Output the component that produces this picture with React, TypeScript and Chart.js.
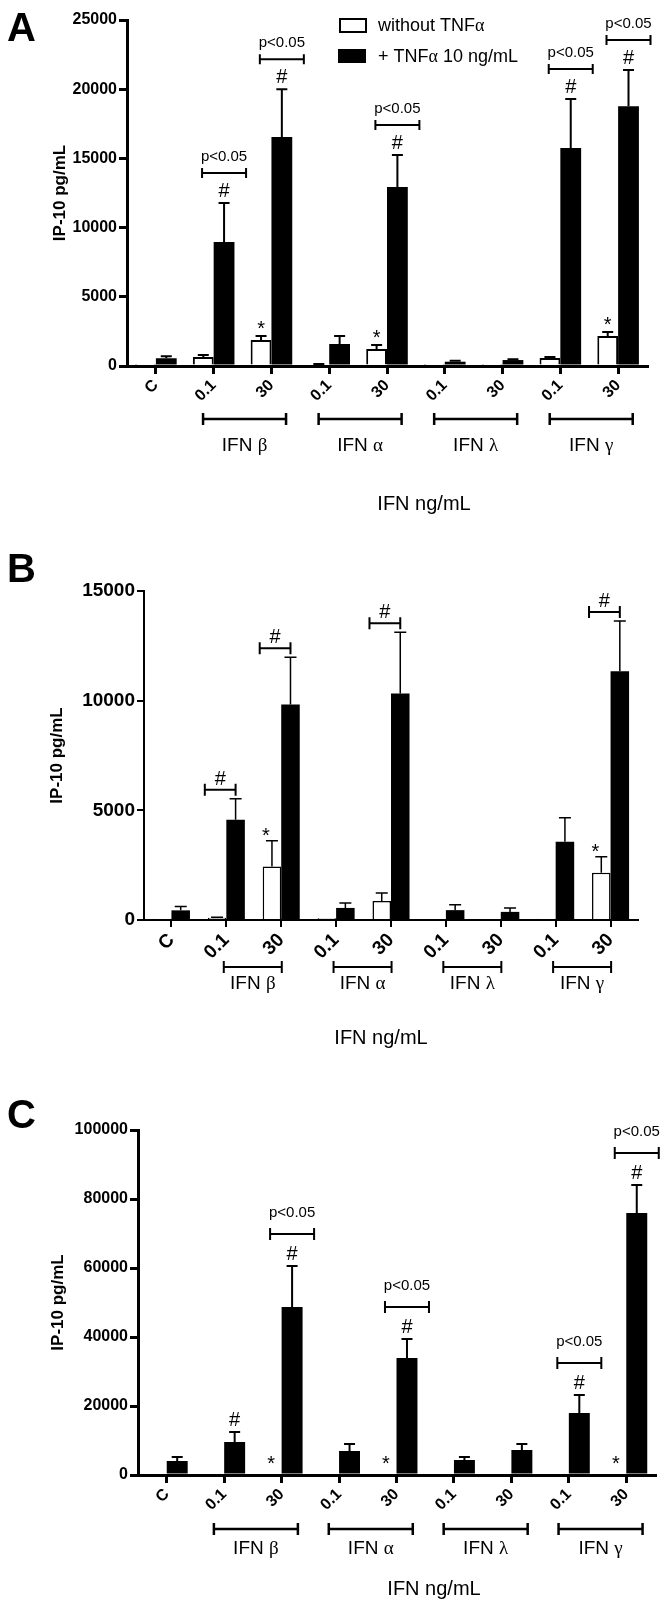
import React, { useEffect, useRef } from "react";
import { Chart, registerables } from "chart.js";
Chart.register(...registerables);

// ---------- data ----------
const categories = ["C", "0.1", "30", "0.1", "30", "0.1", "30", "0.1", "30"];
const ifnGreek = ["β", "α", "λ", "γ"];
const groupStart = [1, 3, 5, 7];
const seriesNames = ["without TNFα", "+ TNFα 10 ng/mL"];
const yTitle = "IP-10 pg/mL";
const xTitle = "IFN ng/mL";

// Panel A
const aWithout = [30, 650, 1880, 100, 1230, 20, 20, 580, 2170];
const aWithoutErr = [0, 150, 290, 40, 290, 0, 0, 70, 290];
const aWith = [560, 8960, 16550, 1590, 12930, 310, 430, 15750, 18760];
const aWithErr = [150, 2820, 3450, 580, 2320, 70, 60, 3540, 2630];
const aHash = [1, 2, 4, 7, 8];
const aStar = [2, 4, 8];
const aBrackets = [1, 2, 4, 7, 8];

// Panel B
const bWithout = [60, 100, 2440, 80, 870, 50, 40, 60, 2150];
const bWithoutErr = [0, 30, 1170, 0, 360, 0, 0, 0, 730];
const bWith = [440, 4570, 9830, 550, 10330, 450, 370, 3570, 11340];
const bWithErr = [180, 960, 2150, 230, 2790, 240, 180, 1090, 2290];
const bHash = [1, 2, 4, 8];
const bStar = [2, 8];
const bBrackets = [1, 2, 4, 8];

// Panel C
const cWithout = [0, 0, 0, 0, 0, 0, 0, 0, 0];
const cWithoutErr = [0, 0, 0, 0, 0, 0, 0, 0, 0];
const cWith = [4060, 9570, 48700, 6960, 33900, 4350, 7250, 17970, 75940];
const cWithErr = [1160, 2890, 11880, 2030, 5500, 870, 1740, 5220, 8120];
const cHash = [1, 2, 4, 7, 8];
const cStar = [2, 4, 8];
const cBrackets = [2, 4, 7, 8];

// ---------- styling ----------
const FONT = '"Liberation Sans", Arial, Helvetica, sans-serif';
const SERIF = '"Liberation Serif", "DejaVu Serif", serif';

type Style = {
  axisW: number; tickLen: number; yFont: number; xFont: number; catPct: number;
  whiteBorder: number; errW: number; cap: number;
  mode: "p" | "hash"; bracketUp: number; hashUp: number; pUp: number; bracketHalf: number;
  bracketW: number; endTick: number;
  starX: number; starUp: number;
  grpY: number; grpHalf: number; grpShift: number; grpTextY: number; grpW: number;
  titleX: number; titleY: number; letterY: number; yTitleX: number;
};

type Panel = {
  letter: string; top: number; height: number;
  area: { left: number; right: number; top: number; bottom: number };
  yMax: number; yStep: number;
  without: number[]; withoutErr: number[]; withV: number[]; withErr: number[];
  hash: number[]; star: number[]; brackets: number[];
  legend: boolean; s: Style;
};

const panels: Panel[] = [
  {
    letter: "A", top: 0, height: 520,
    area: { left: 127, right: 647, top: 20, bottom: 366 },
    yMax: 25000, yStep: 5000,
    without: aWithout, withoutErr: aWithoutErr, withV: aWith, withErr: aWithErr,
    hash: aHash, star: aStar, brackets: aBrackets, legend: true,
    s: {
      axisW: 3, tickLen: 8, yFont: 16, xFont: 16, catPct: 0.72, whiteBorder: 2, errW: 2, cap: 11,
      mode: "p", bracketUp: 30, hashUp: 6, pUp: 12, bracketHalf: 22, bracketW: 2, endTick: 5,
      starX: 0, starUp: 1,
      grpY: 53, grpHalf: 41.5, grpShift: 2, grpTextY: 32, grpW: 2.5,
      titleX: 424, titleY: 144, letterY: 41, yTitleX: 60,
    },
  },
  {
    letter: "B", top: 520, height: 540,
    area: { left: 144, right: 638, top: 71, bottom: 400 },
    yMax: 15000, yStep: 5000,
    without: bWithout, withoutErr: bWithoutErr, withV: bWith, withErr: bWithErr,
    hash: bHash, star: bStar, brackets: bBrackets, legend: false,
    s: {
      axisW: 2, tickLen: 7, yFont: 19, xFont: 19, catPct: 0.675, whiteBorder: 1.5, errW: 1.5, cap: 12,
      mode: "hash", bracketUp: 9, hashUp: 5, pUp: 0, bracketHalf: 0, bracketW: 2, endTick: 6,
      starX: -6, starUp: -1,
      grpY: 47, grpHalf: 29, grpShift: -1, grpTextY: 22, grpW: 2,
      titleX: 381, titleY: 124, letterY: 62, yTitleX: 57,
    },
  },
  {
    letter: "C", top: 1060, height: 549,
    area: { left: 138, right: 655, top: 70, bottom: 415 },
    yMax: 100000, yStep: 20000,
    without: cWithout, withoutErr: cWithoutErr, withV: cWith, withErr: cWithErr,
    hash: cHash, star: cStar, brackets: cBrackets, legend: false,
    s: {
      axisW: 3, tickLen: 8, yFont: 16, xFont: 16, catPct: 0.73, whiteBorder: 2, errW: 2, cap: 11,
      mode: "p", bracketUp: 32, hashUp: 6, pUp: 17, bracketHalf: 22, bracketW: 2, endTick: 6,
      starX: 0, starUp: 5,
      grpY: 54, grpHalf: 42, grpShift: 3, grpTextY: 25, grpW: 2.5,
      titleX: 434, titleY: 120, letterY: 68, yTitleX: 58,
    },
  },
];

// ---------- helpers ----------
function richParts(text: string, size: number, weight = "normal") {
  const parts: { t: string; font: string }[] = [];
  for (const ch of text) {
    const greek = /[\u0370-\u03FF]/.test(ch);
    const font = `${weight} ${size}px ${greek ? SERIF : FONT}`;
    const last = parts[parts.length - 1];
    if (last && last.font === font) last.t += ch;
    else parts.push({ t: ch, font });
  }
  return parts;
}

function drawRich(
  ctx: CanvasRenderingContext2D, text: string, size: number, x: number, y: number,
  align: "left" | "center", weight = "normal"
) {
  const parts = richParts(text, size, weight);
  let total = 0;
  const widths = parts.map((p) => {
    ctx.font = p.font;
    const w = ctx.measureText(p.t).width;
    total += w;
    return w;
  });
  let cx = align === "center" ? x - total / 2 : x;
  ctx.textAlign = "left";
  ctx.textBaseline = "alphabetic";
  parts.forEach((p, i) => {
    ctx.font = p.font;
    ctx.fillText(p.t, cx, y);
    cx += widths[i];
  });
}

function hBracket(ctx: CanvasRenderingContext2D, x0: number, x1: number, y: number, lw: number, endTick: number) {
  ctx.lineWidth = lw;
  ctx.beginPath();
  ctx.moveTo(x0, y);
  ctx.lineTo(x1, y);
  ctx.moveTo(x0, y - endTick);
  ctx.lineTo(x0, y + endTick);
  ctx.moveTo(x1, y - endTick);
  ctx.lineTo(x1, y + endTick);
  ctx.stroke();
}

function makePlugin(p: Panel) {
  const s = p.s;
  return {
    id: "panelDecor" + p.letter,
    afterDatasetsDraw(chart: any) {
      const ctx = chart.ctx as CanvasRenderingContext2D;
      const ys = chart.scales.y;
      const xs = chart.scales.x;
      const ca = chart.chartArea;
      const m0 = chart.getDatasetMeta(0).data;
      const m1 = chart.getDatasetMeta(1).data;
      ctx.save();
      ctx.strokeStyle = "#000";
      ctx.fillStyle = "#000";
      ctx.lineCap = "butt";

      // error bars (upper)
      const errBar = (x: number, v: number, e: number) => {
        if (e <= 0) return;
        const y0 = ys.getPixelForValue(v);
        const y1 = ys.getPixelForValue(v + e);
        ctx.lineWidth = s.errW;
        ctx.beginPath();
        ctx.moveTo(x, y0);
        ctx.lineTo(x, y1);
        ctx.moveTo(x - s.cap / 2, y1);
        ctx.lineTo(x + s.cap / 2, y1);
        ctx.stroke();
      };
      for (let i = 0; i < categories.length; i++) {
        errBar(m0[i].x, p.without[i], p.withoutErr[i]);
        errBar(m1[i].x, p.withV[i], p.withErr[i]);
      }

      // stars over "without" bars
      ctx.textAlign = "center";
      ctx.textBaseline = "alphabetic";
      ctx.font = `20px ${FONT}`;
      for (const i of p.star) {
        const top = ys.getPixelForValue(p.without[i] + p.withoutErr[i]);
        ctx.fillText("*", m0[i].x + s.starX, top - s.starUp);
      }

      if (s.mode === "p") {
        for (const i of p.hash) {
          const top = ys.getPixelForValue(p.withV[i] + p.withErr[i]);
          ctx.font = `20px ${FONT}`;
          ctx.textAlign = "center";
          ctx.fillText("#", m1[i].x, top - s.hashUp);
        }
        for (const i of p.brackets) {
          const top = ys.getPixelForValue(p.withV[i] + p.withErr[i]);
          const by = top - s.bracketUp;
          const cx = m1[i].x;
          hBracket(ctx, cx - s.bracketHalf, cx + s.bracketHalf, by, s.bracketW, s.endTick);
          ctx.font = `15px ${FONT}`;
          ctx.textAlign = "center";
          ctx.fillText("p<0.05", cx, by - s.pUp);
        }
      } else {
        for (const i of p.brackets) {
          const top = ys.getPixelForValue(p.withV[i] + p.withErr[i]);
          const by = top - s.bracketUp;
          const x0 = m0[i].x - m0[i].width / 2 - 3;
          const x1 = m1[i].x;
          hBracket(ctx, x0, x1, by, s.bracketW, s.endTick);
          if (p.hash.includes(i)) {
            ctx.font = `20px ${FONT}`;
            ctx.textAlign = "center";
            ctx.fillText("#", (x0 + x1) / 2, by - s.hashUp);
          }
        }
      }

      // group brackets under the axis
      ifnGreek.forEach((g, k) => {
        const a = xs.getPixelForTick(groupStart[k]);
        const b = xs.getPixelForTick(groupStart[k] + 1);
        const mid = (a + b) / 2 + s.grpShift;
        const y = ca.bottom + s.grpY;
        hBracket(ctx, mid - s.grpHalf, mid + s.grpHalf, y, s.grpW, 6);
        drawRich(ctx, "IFN " + g, 19, mid, y + s.grpTextY, "center");
      });

      // x title
      drawRich(ctx, xTitle, 20, s.titleX, ca.bottom + s.titleY, "center");

      // y title
      ctx.save();
      ctx.translate(s.yTitleX, (ca.top + ca.bottom) / 2);
      ctx.rotate(-Math.PI / 2);
      ctx.font = `bold 17px ${FONT}`;
      ctx.textAlign = "center";
      ctx.textBaseline = "middle";
      ctx.fillText(yTitle, 0, 0);
      ctx.restore();

      // panel letter
      ctx.font = `bold 40px ${FONT}`;
      ctx.textAlign = "left";
      ctx.textBaseline = "alphabetic";
      ctx.fillText(p.letter, 7, s.letterY);

      // legend
      if (p.legend) {
        const ds = chart.data.datasets;
        ctx.lineWidth = 2;
        ctx.fillStyle = "#fff";
        ctx.fillRect(340, 19, 26, 13);
        ctx.strokeRect(340, 19, 26, 13);
        ctx.fillStyle = "#000";
        ctx.fillRect(338, 49, 28, 14);
        drawRich(ctx, ds[0].label, 18, 378, 31, "left");
        drawRich(ctx, ds[1].label, 18, 378, 62, "left");
      }
      ctx.restore();
    },
  };
}

function PanelChart({ p }: { p: Panel }) {
  const ref = useRef<HTMLCanvasElement>(null);
  useEffect(() => {
    const canvas = ref.current!;
    const s = p.s;
    const xBoxH = 40;
    const chart = new Chart(canvas, {
      type: "bar",
      data: {
        labels: categories,
        datasets: [
          {
            label: seriesNames[0], data: p.without, backgroundColor: "#fff", borderColor: "#000",
            borderWidth: s.whiteBorder, categoryPercentage: s.catPct, barPercentage: 1,
          },
          {
            label: seriesNames[1], data: p.withV, backgroundColor: "#000", borderColor: "#000",
            borderWidth: 0, categoryPercentage: s.catPct, barPercentage: 1,
          },
        ],
      },
      options: {
        responsive: false,
        animation: false,
        devicePixelRatio: 1,
        layout: {
          padding: {
            left: 0, top: p.area.top, right: 664 - p.area.right,
            bottom: p.height - p.area.bottom - xBoxH,
          },
        },
        plugins: { legend: { display: false }, tooltip: { enabled: false }, title: { display: false } },
        scales: {
          x: {
            type: "category",
            offset: true,
            grid: {
              display: true, drawOnChartArea: false, drawTicks: true, offset: false,
              tickLength: s.tickLen, lineWidth: s.axisW, color: "#000",
            },
            border: { display: true, width: s.axisW, color: "#000" },
            ticks: {
              color: "#000", autoSkip: false, minRotation: 45, maxRotation: 45, padding: 2,
              font: { family: FONT, size: s.xFont, weight: "bold" },
            },
            afterFit: (scale: any) => { scale.height = xBoxH; },
          },
          y: {
            min: 0, max: p.yMax,
            grid: {
              display: true, drawOnChartArea: false, drawTicks: true,
              tickLength: s.tickLen, lineWidth: s.axisW, color: "#000",
            },
            border: { display: true, width: s.axisW, color: "#000" },
            ticks: {
              stepSize: p.yStep, color: "#000", padding: 2,
              font: { family: FONT, size: s.yFont, weight: "bold" },
              callback: (v: any) => String(v),
            },
            afterFit: (scale: any) => { scale.width = p.area.left; },
          },
        },
      } as any,
      plugins: [makePlugin(p)],
    });
    return () => chart.destroy();
  }, []);
  return (
    <canvas
      ref={ref}
      width={664}
      height={p.height}
      style={{ position: "absolute", left: 0, top: p.top, width: 664, height: p.height }}
    />
  );
}

export default function App() {
  return (
    <div style={{ position: "absolute", left: 0, top: 0, width: 664, height: 1609, background: "#fff" }}>
      {panels.map((p) => (
        <PanelChart key={p.letter} p={p} />
      ))}
    </div>
  );
}
